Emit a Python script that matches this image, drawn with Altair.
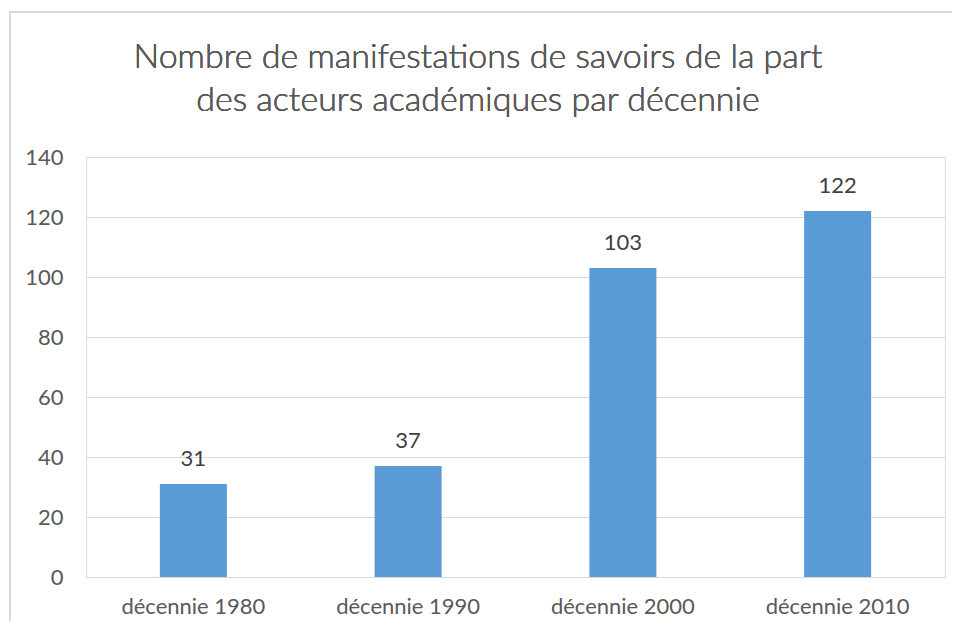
import altair as alt
import pandas as pd

categories = ["décennie 1980", "décennie 1990", "décennie 2000", "décennie 2010"]
values = [31, 37, 103, 122]
title_lines = ["Nombre de manifestations de savoirs de la part",
               "des acteurs académiques par décennie"]
y_ticks = [0, 20, 40, 60, 80, 100, 120, 140]

df = pd.DataFrame({"cat": categories, "val": values})
FONT = "Lato"
GRAY = "#595959"

W, H = 859, 420

x_enc = alt.X("cat:N", sort=categories, title=None,
              scale=alt.Scale(paddingInner=0.688, paddingOuter=0.344),
              axis=alt.Axis(labelAngle=0, labelFontSize=22, labelColor=GRAY, labelFont=FONT,
                            labelFontWeight="normal",
                            labelPadding=19, ticks=False, domainColor="#d9d9d9", domainWidth=1))
y_enc = alt.Y("val:Q", title=None,
              scale=alt.Scale(domain=[0, 140], nice=False),
              axis=alt.Axis(values=y_ticks, labelFontSize=22, labelColor=GRAY, labelFont=FONT,
                            labelFontWeight="normal",
                            labelPadding=23, ticks=False, domain=False,
                            gridColor="#d9d9d9", gridWidth=1))

bars = alt.Chart(df).mark_bar(color="#5b9bd5").encode(x=x_enc, y=y_enc)
labels = alt.Chart(df).mark_text(dy=-25, fontSize=22, font=FONT, color="#404040",
                                 fontWeight="normal", baseline="middle").encode(
    x=alt.X("cat:N", sort=categories), y="val:Q", text="val:Q")

border = alt.Chart(df).mark_rect(fill=None, stroke="#d9d9d9", strokeWidth=1.5, clip=False).encode(
    x=alt.value(-76), x2=alt.value(869), y=alt.value(-145), y2=alt.value(490))

t1 = alt.Chart(df).mark_text(text=title_lines[0], fontSize=34, font=FONT, color=GRAY,
                             fontWeight=300, baseline="middle", align="center").encode(
    x=alt.value(392), y=alt.value(-99))
t2 = alt.Chart(df).mark_text(text=title_lines[1], fontSize=34, font=FONT, color=GRAY,
                             fontWeight=300, baseline="middle", align="center").encode(
    x=alt.value(392), y=alt.value(-56))

chart = alt.layer(border, bars, labels, t1, t2).properties(
    width=W, height=H,
    padding={"left": 78, "top": 149, "right": 7, "bottom": 44},
    autosize=alt.AutoSizeParams(type="none"),
).configure_view(stroke=None).configure(background="white")

chart.save("out.html", embed_options={"renderer": "svg", "actions": False})
